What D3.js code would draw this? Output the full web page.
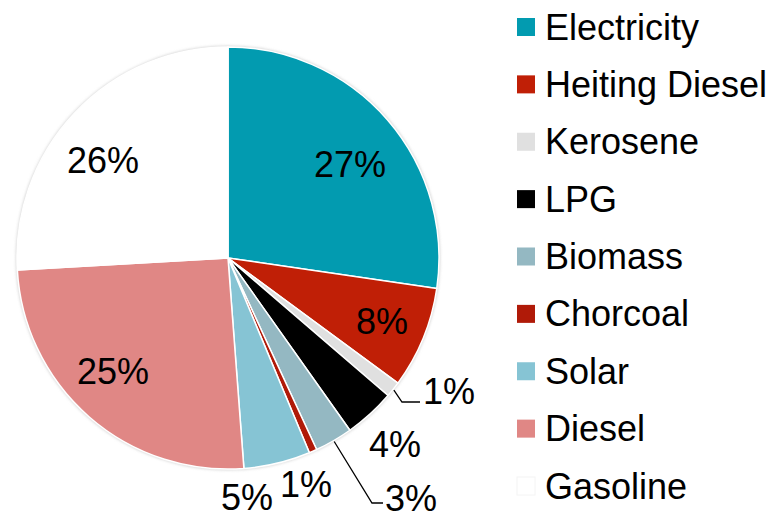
<!DOCTYPE html>
<html>
<head>
<meta charset="utf-8">
<script src="https://cdn.jsdelivr.net/npm/d3@7"></script>
<style>
  body { margin: 0; background: #fff; }
  svg { display: block; font-family: "Liberation Sans", Arial, sans-serif; }
</style>
</head>
<body>
<div id="chart"></div>
<script>
// fuel share data
const fuels = ['Electricity', 'Heiting Diesel', 'Kerosene', 'LPG', 'Biomass', 'Chorcoal', 'Solar', 'Diesel', 'Gasoline'];
const shares = [27.3, 7.8, 1.2, 3.9, 2.9, 0.6, 5.1, 25.3, 25.9];
const fuelColors = ['#029bb0', '#c01f06', '#e0e0e0', '#000000', '#94b8c2', '#b01a08', '#86c4d4', '#e08785', '#ffffff'];

const width = 777, height = 516;
const cx = 228, cy = 258, radius = 211;

const svg = d3.select('#chart').append('svg')
  .attr('width', width)
  .attr('height', height);

const defs = svg.append('defs');
const blur = defs.append('filter').attr('id', 'shadow')
  .attr('x', '-10%').attr('y', '-10%').attr('width', '120%').attr('height', '120%');
blur.append('feGaussianBlur').attr('stdDeviation', 1.5);

const data = fuels.map((f, i) => ({ name: f, value: shares[i], color: fuelColors[i] }));

const pie = d3.pie().sort(null).value(d => d.value);
const arcs = pie(data);
const arc = d3.arc().innerRadius(0).outerRadius(radius);

const g = svg.append('g').attr('transform', `translate(${cx},${cy})`);

// faint shadow round the pie
g.append('circle')
  .attr('r', radius + 1)
  .attr('fill', '#d0d0d0')
  .attr('filter', 'url(#shadow)');

g.selectAll('path.slice')
  .data(arcs)
  .join('path')
  .attr('class', 'slice')
  .attr('d', arc)
  .attr('fill', d => d.data.color)
  .attr('stroke', '#fff')
  .attr('stroke-width', 1.5)
  .attr('stroke-linejoin', 'round');

// where each percent label sits
const labelAt = [
  [350, 164], [382, 321], [449, 391], [395, 444], [411, 498], [306, 484], [247, 497], [113, 371], [103, 160]
];

const labels = svg.append('g');
labels.selectAll('text')
  .data(arcs)
  .join('text')
  .attr('x', (d, i) => labelAt[i][0])
  .attr('y', (d, i) => labelAt[i][1])
  .attr('text-anchor', 'middle')
  .attr('dominant-baseline', 'central')
  .attr('font-size', 36)
  .attr('fill', '#000')
  .text(d => Math.round(d.data.value) + '%');

// leader lines for kerosene and biomass
const leaders = [
  { i: 2, pts: [[402, 402], [420, 402]] },
  { i: 4, pts: [[372, 503], [383, 503]] }
];
leaders.forEach(l => {
  const a = arcs[l.i];
  const mid = (a.startAngle + a.endAngle) / 2;
  const start = [cx + Math.sin(mid) * (radius + 1), cy - Math.cos(mid) * (radius + 1)];
  svg.append('path')
    .attr('d', d3.line()([start, ...l.pts]))
    .attr('fill', 'none')
    .attr('stroke', '#000')
    .attr('stroke-width', 1.3);
});

// legend
const legendY = d3.scalePoint().domain(fuels).range([27, 486]);
const legend = svg.append('g');
const items = legend.selectAll('g')
  .data(data)
  .join('g')
  .attr('transform', d => `translate(517,${legendY(d.name)})`);
items.append('rect')
  .attr('x', 0).attr('y', -9)
  .attr('width', 18).attr('height', 18)
  .attr('fill', d => d.color)
  .attr('stroke', d => d.color === '#ffffff' ? '#f4f4f4' : 'none');
items.append('text')
  .attr('x', 28)
  .attr('y', 0)
  .attr('dominant-baseline', 'central')
  .attr('font-size', 36)
  .attr('fill', '#000')
  .text(d => d.name);
</script>
</body>
</html>
